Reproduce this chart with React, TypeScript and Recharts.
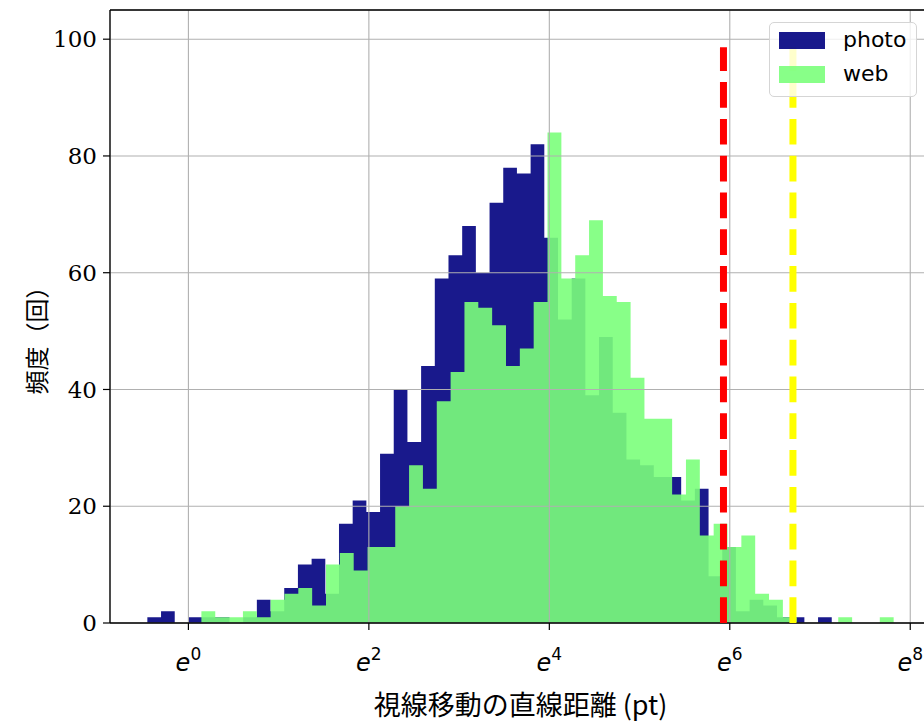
import React from "react";
import {
    ComposedChart,
    Area,
    XAxis,
    YAxis,
    CartesianGrid,
    ReferenceLine,
    Legend,
} from "recharts";

// histogram counts per bin (50 bins each, x axis is ln(distance))
const photoCounts = [
    1, 2, 0, 1, 1, 1, 0, 1, 4, 2, 6, 10, 11, 5, 17, 21, 19, 29, 40, 31, 44, 59,
    63, 68, 60, 72, 78, 77, 82, 66, 52, 59, 39, 49, 36, 28, 27, 25, 25, 21, 23,
    8, 13, 2, 4, 3, 1, 1, 0, 1,
];
const webCounts = [
    2, 1, 1, 2, 1, 4, 5, 6, 3, 10, 12, 9, 13, 13, 20, 27, 23, 38, 43, 55, 54, 51,
    44, 47, 55, 84, 59, 63, 69, 56, 55, 42, 35, 35, 22, 28, 15, 17, 13, 15, 5,
    4, 1, 0, 0, 0, 1, 0, 0, 1,
];
// bin range (ln scale) for each series
const photoRange = [-0.455, 7.13];
const webRange = [0.144, 7.816];

const seriesNames = ["photo", "web"];
const seriesColors = ["#000080", "#7bff7b"];

const xTicks = [0, 2, 4, 6, 8];
const yTicks = [0, 20, 40, 60, 80, 100];

// dashed threshold lines
const thresholdX = [5.93, 6.7];
const thresholdColors = ["#ff0000", "#ffff00"];
const thresholdTop = 98.6;

const toSteps = (counts: number[], range: number[], key: string) => {
    const w = (range[1] - range[0]) / counts.length;
    const pts = counts.map((c, i) => ({ x: range[0] + i * w, [key]: c }));
    pts.push({ x: range[1], [key]: counts[counts.length - 1] });
    return pts;
};

const photoData = toSteps(photoCounts, photoRange, "photo");
const webData = toSteps(webCounts, webRange, "web");

const ETick = (props: any) => {
    const { x, y, payload } = props;
    return (
        <text
            x={x}
            y={y + 39}
            textAnchor="middle"
            fontFamily="DejaVu Sans"
            fill="#000"
        >
            <tspan fontStyle="italic" fontSize={24}>
                e
            </tspan>
            <tspan fontSize={17} dy={-11}>
                {payload.value}
            </tspan>
        </text>
    );
};

const XLabel = (props: any) => {
    const vb = props.viewBox;
    return (
        <text
            x={vb.x + vb.width / 2}
            y={715}
            textAnchor="middle"
            fontFamily="'Noto Sans CJK JP'"
            fontSize={27}
            fill="#000"
        >
            視線移動の直線距離 (pt)
        </text>
    );
};

const YLabel = (props: any) => {
    const vb = props.viewBox;
    const cy = vb.y + vb.height / 2 + 18;
    return (
        <text
            x={35}
            y={cy}
            transform={`rotate(-90 35 ${cy})`}
            textAnchor="middle"
            dominantBaseline="central"
            fontFamily="'Noto Sans CJK JP'"
            fontSize={24}
            fill="#000"
        >
            頻度（回）
        </text>
    );
};

const LegendBox = () => (
    <div
        style={{
            position: "relative",
            width: 148,
            height: 75,
            boxSizing: "border-box",
            border: "1px solid #d5d5d5",
            borderRadius: 5,
            background: "rgba(255,255,255,0.8)",
            fontFamily: "DejaVu Sans",
            fontSize: 22,
            color: "#000",
        }}
    >
        {seriesNames.map((name, i) => (
            <React.Fragment key={name}>
                <div
                    style={{
                        position: "absolute",
                        left: 9,
                        top: 9 + i * 34,
                        width: 46,
                        height: 17,
                        background: seriesColors[i],
                        opacity: 0.9,
                    }}
                />
                <div
                    style={{
                        position: "absolute",
                        left: 73,
                        top: 4 + i * 34,
                        lineHeight: "26px",
                    }}
                >
                    {name}
                </div>
            </React.Fragment>
        ))}
    </div>
);

const App: React.FC = () => {
    return (
        <div
            style={{
                position: "absolute",
                left: 0,
                top: 0,
                width: 940,
                height: 724,
                background: "#fff",
            }}
        >
            <ComposedChart
                width={940}
                height={724}
                margin={{ top: 10, right: 9, bottom: 0, left: 0 }}
            >
                <XAxis
                    type="number"
                    dataKey="x"
                    domain={[-0.869, 8.23]}
                    allowDataOverflow
                    ticks={xTicks}
                    tick={<ETick />}
                    tickSize={7}
                    tickLine={{ stroke: "#000", strokeWidth: 1.2 }}
                    axisLine={{ stroke: "#000", strokeWidth: 1.3 }}
                    height={101}
                    label={<XLabel />}
                />
                <YAxis
                    type="number"
                    domain={[0, 105]}
                    allowDataOverflow
                    ticks={yTicks}
                    width={110}
                    tickSize={7}
                    tickMargin={6}
                    tick={{
                        fill: "#000",
                        fontSize: 23,
                        fontFamily: "DejaVu Serif",
                    }}
                    tickLine={{ stroke: "#000", strokeWidth: 1.2 }}
                    axisLine={{ stroke: "#000", strokeWidth: 1.3 }}
                    label={<YLabel />}
                />
                <Area
                    data={photoData}
                    dataKey="photo"
                    name={seriesNames[0]}
                    type="stepAfter"
                    fill={seriesColors[0]}
                    fillOpacity={0.9}
                    stroke="none"
                    isAnimationActive={false}
                />
                <Area
                    data={webData}
                    dataKey="web"
                    name={seriesNames[1]}
                    type="stepAfter"
                    fill={seriesColors[1]}
                    fillOpacity={0.9}
                    stroke="none"
                    isAnimationActive={false}
                />
                <CartesianGrid
                    stroke="#b0b0b0"
                    strokeWidth={1.1}
                    zIndex={450}
                />
                <ReferenceLine
                    y={105}
                    stroke="#000"
                    strokeWidth={1.3}
                    zIndex={600}
                />
                {thresholdX.map((v, i) => (
                    <ReferenceLine
                        key={v}
                        segment={[
                            { x: v, y: 0 },
                            { x: v, y: thresholdTop },
                        ]}
                        stroke={thresholdColors[i]}
                        strokeWidth={7}
                        strokeDasharray="25.7 11.1"
                        zIndex={550}
                    />
                ))}
                <Legend
                    layout="vertical"
                    align="center"
                    verticalAlign="middle"
                    content={<LegendBox />}
                    wrapperStyle={{ left: 769, top: 22, width: 148 }}
                />
            </ComposedChart>
        </div>
    );
};

export default App;
